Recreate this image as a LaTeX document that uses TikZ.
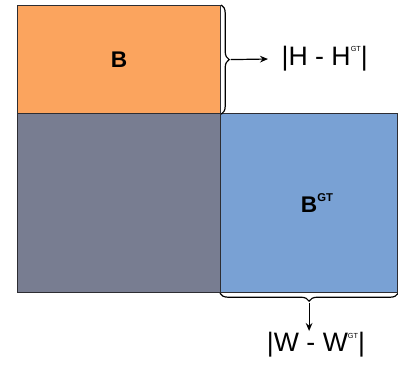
\documentclass[tikz,border=0pt]{standalone}
\usepackage{fontspec}
\setmainfont{Liberation Sans}
\usepackage{tikz}
\usetikzlibrary{positioning, arrows.meta, decorations.pathreplacing}
\usepackage{xcolor}
\definecolor{predorange}{RGB}{251,164,94}
\definecolor{unionslate}{RGB}{120,125,145}
\definecolor{gtblue}{RGB}{121,161,212}
\definecolor{edgegray}{RGB}{45,45,50}
\newcommand{\gtsup}[1]{\raisebox{0.52em}{\fontsize{#1}{#1}\selectfont GT}}

\begin{document}
\begin{tikzpicture}[x=0.75pt, y=-0.75pt,
      region/.style={draw=edgegray, line width=0.9pt, inner sep=0pt, anchor=north west},
      boxlbl/.style={font=\fontsize{17}{20}\selectfont\bfseries},
      difflbl/.style={font=\fontsize{20}{24}\selectfont, inner xsep=10pt, inner ysep=1pt},
      brc/.style={decorate, decoration={brace, amplitude=6pt}, line width=0.9pt},
      arr/.style={-{Stealth[length=6pt, width=5pt]}, line width=0.9pt},
    ]
    \useasboundingbox (0,0) rectangle (398,369);

    % Boxes
    \node[region, fill=unionslate, minimum width=152.25pt, minimum height=134.25pt] (rest) at (17,113) {};
    \node[region, boxlbl, fill=predorange, minimum width=152.25pt, minimum height=81pt] (pred) at (17,5) {B};
    \node[region, boxlbl, fill=gtblue, minimum width=132.75pt, minimum height=134.25pt] (gt) at (220,113)
    {B\rlap{\gtsup{8.5}}};

    % Height difference
    \draw[brc] (pred.north east) -- (pred.south east);
    \coordinate (hTip) at ([xshift=7pt]pred.east);
    \node[difflbl, anchor=west] (hLbl) at (268,59) {|H - H\gtsup{5.5}|};
    \draw[arr] (hTip) -- (hLbl.west);

    % Width difference
    \draw[brc] (gt.south east) -- (gt.south west);
    \coordinate (wTip) at ([yshift=-7pt]gt.south);
    \node[difflbl, anchor=north] (wLbl) at (316,331) {|W - W\gtsup{5.5}|};
    \draw[arr] (wTip) -- (wTip |- wLbl.north);
  \end{tikzpicture}
\end{document}
